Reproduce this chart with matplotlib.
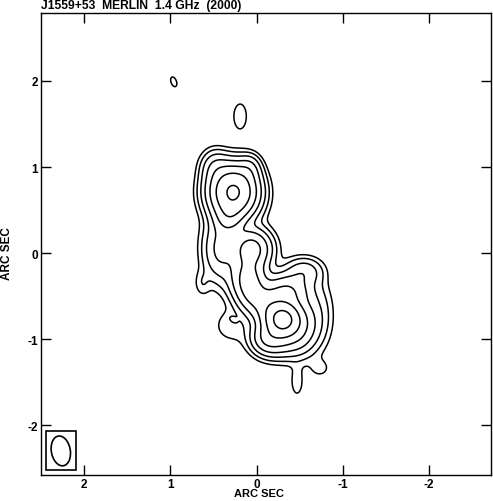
import numpy as np
import matplotlib
matplotlib.use('Agg')
import matplotlib.pyplot as plt
from matplotlib.patches import Ellipse, Rectangle

plt.rcParams['font.family'] = ['Liberation Sans', 'DejaVu Sans']
plt.rcParams['font.weight'] = 'bold'
plt.rcParams['axes.unicode_minus'] = False

# source model: gaussian components (x, y in arcsec, peak, sig_x, sig_y, angle deg)
# north lobe
nx = [0.27, 0.32, 0.08, 0.48, 0.42]
ny = [0.71, 0.42, 0.98, 1.00, 0.05]
namp = [70, 14, 6, 6, 9]
nsx = [0.155, 0.10, 0.08, 0.10, 0.12]
nsy = [0.17, 0.12, 0.10, 0.12, 0.22]
nang = [0, 0, 0, 0, 0]
# south lobe: core + plateau + shoulder
sx_ = [-0.30, 0.06, 0.10, -0.12, -0.35, -0.48, -0.22, -0.12, -0.55, -0.70, 0.05]
sy_ = [-0.77, 0.05, -0.30, -0.62, -0.45, -0.85, -1.00, -0.98, -0.22, -0.70, -0.50]
samp = [76, 20, 19, 16, 16, 16, 14, 8, 6, 3, 9]
ssx = [0.115, 0.13, 0.12, 0.12, 0.15, 0.13, 0.15, 0.10, 0.13, 0.12, 0.10]
ssy = [0.115, 0.13, 0.16, 0.14, 0.12, 0.18, 0.12, 0.10, 0.10, 0.25, 0.12]
sang = [0, 0, 0, 0, 0, 0, 0, 0, 0, 0, 0]
# faint emission: halo, bumps, tail, islands
fx = [0.0, 0.63, 0.30, -0.47, -0.74, 0.96, 0.19, 0.27]
fy = [-0.3, -0.35, -0.85, -1.50, -1.34, 1.99, 1.59, -0.77]
famp = [0.7, 1.5, 1.3, 1.5, 1.1, 1.5, 1.5, 1.2]
fsx = [0.35, 0.06, 0.15, 0.05, 0.09, 0.035, 0.078, 0.035]
fsy = [0.80, 0.10, 0.14, 0.12, 0.08, 0.065, 0.155, 0.022]
fang = [-20, 0, 0, 0, 0, -20, 0, 30]

levels = [1, 2, 4, 8, 16, 32, 64]

# restoring beam
beam_x, beam_y = 2.27, -2.30
beam_w, beam_h, beam_pa = 0.22, 0.35, -10

xlim = (2.5, -2.72)
ylim = (-2.58, 2.79)

x = np.linspace(xlim[1], xlim[0], 500)
y = np.linspace(ylim[0], ylim[1], 500)
X, Y = np.meshgrid(x, y)
Z = np.zeros_like(X)
comps = list(zip(nx + sx_ + fx, ny + sy_ + fy, namp + samp + famp,
                 nsx + ssx + fsx, nsy + ssy + fsy, nang + sang + fang))
for x0, y0, a, sx, sy, ang in comps:
    t = np.radians(ang)
    dx = X - x0
    dy = Y - y0
    u = dx * np.cos(t) + dy * np.sin(t)
    v = -dx * np.sin(t) + dy * np.cos(t)
    Z += a * np.exp(-0.5 * ((u / sx) ** 2 + (v / sy) ** 2))

fig = plt.figure(figsize=(4.93, 5.02), dpi=100)
ax = fig.add_axes([41 / 493, 26 / 502, 450 / 493, 462 / 502])
ax.contour(X, Y, Z, levels=levels, colors='black', linewidths=1.1)

ax.set_xlim(*xlim)
ax.set_ylim(*ylim)
ax.set_xticks([2, 1, 0, -1, -2])
ax.set_yticks([-2, -1, 0, 1, 2])
ax.tick_params(direction='in', length=7, width=1, top=True, right=True,
               labelsize=8.5, pad=2)
for s in ax.spines.values():
    s.set_linewidth(1)

ax.set_xlabel('ARC SEC', fontsize=8, fontweight='bold')
ax.xaxis.set_label_coords((259 - 41) / 450, -0.029)
ax.set_ylabel('ARC SEC', fontsize=8.5, fontweight='bold')
ax.yaxis.set_label_coords(-0.062, (476 - 254) / 462)
for lab in ax.get_xticklabels() + ax.get_yticklabels():
    lab.set_fontweight('bold')

ax.add_patch(Rectangle((2.44, -2.52), -0.35, 0.45, fill=False, lw=1.2, ec='black'))
ax.add_patch(Ellipse((beam_x, beam_y), beam_w, beam_h, angle=beam_pa,
                     fill=False, lw=1.2, ec='black'))

fig.text(41 / 493, 1 - 6 / 502, 'J1559+53  MERLIN  1.4 GHz  (2000)',
         fontsize=8.7, fontweight='bold', va='center', ha='left')

fig.savefig('out.png', dpi=100)
